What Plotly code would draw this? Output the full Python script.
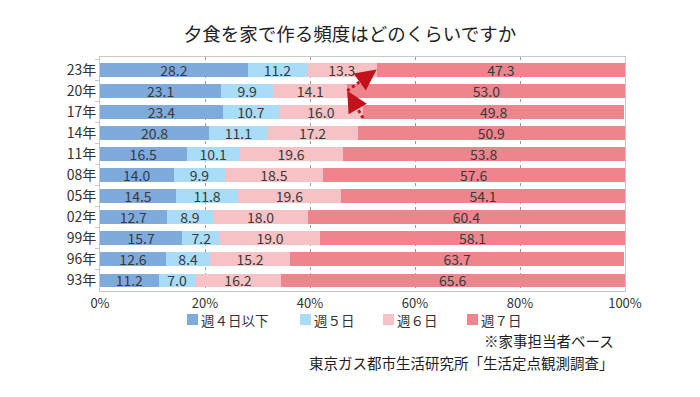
import math
import plotly.graph_objects as go

years = ["23年", "20年", "17年", "14年", "11年", "08年", "05年", "02年", "99年", "96年", "93年"]
series_names = ["週４日以下", "週５日", "週６日", "週７日"]
w4_or_less = [28.2, 23.1, 23.4, 20.8, 16.5, 14.0, 14.5, 12.7, 15.7, 12.6, 11.2]
w5 = [11.2, 9.9, 10.7, 11.1, 10.1, 9.9, 11.8, 8.9, 7.2, 8.4, 7.0]
w6 = [13.3, 14.1, 16.0, 17.2, 19.6, 18.5, 19.6, 18.0, 19.0, 15.2, 16.2]
w7 = [47.3, 53.0, 49.8, 50.9, 53.8, 57.6, 54.1, 60.4, 58.1, 63.7, 65.6]
colors = ["#7eaadc", "#a9dcf6", "#f6c2c5", "#ee858d"]
x_ticks = [0, 20, 40, 60, 80, 100]

# the page body adds an 8px offset; target screen coordinates below
OFF = 8
W, H = 700, 397
SL, ST, SR, SB = 100, 57, 625, 291        # plot area on screen
L, T = SL - OFF, ST - OFF
PW, PH = SR - SL, SB - ST
R, B = W - L - PW, H - T - PH

def px_x(p):
    return (p - OFF - L) / PW

def px_y(p):
    return (T + PH - (p - OFF)) / PH

font_family = "Noto Sans CJK JP, Noto Sans, sans-serif"
fig = go.Figure()
for name, vals, col in zip(series_names, [w4_or_less, w5, w6, w7], colors):
    fig.add_trace(go.Bar(
        y=years, x=vals, name=name, orientation="h",
        marker=dict(color=col, line=dict(width=0)),
        text=[f"{v:.1f}" for v in vals], textposition="inside", textangle=0,
        insidetextanchor="middle", constraintext="none",
        textfont=dict(color="#3a3a3a", size=14, family=font_family),
        showlegend=False,
    ))

# dotted arrows along the 週6日 / 週7日 boundary
boundary = [a + b + c for a, b, c in zip(w4_or_less, w5, w6)]
px_per_pct = PW / 100
px_per_row = PH / len(years)
arrow_color = "#c4121c"
for src, dst, tail_shift in [(2, 1, 0.3), (1, 0, 0.0)]:
    y_src = src + tail_shift
    dx = (boundary[dst] - boundary[src]) * px_per_pct
    dy = -(y_src - dst) * px_per_row
    length = math.hypot(dx, dy)
    ux, uy = dx / length, dy / length
    head_len = 9
    fig.add_shape(type="line", xref="x", yref="y",
                  x0=boundary[src], y0=y_src,
                  x1=boundary[dst] - ux * head_len / px_per_pct,
                  y1=dst - uy * head_len / px_per_row,
                  line=dict(color=arrow_color, width=3, dash="dot"))
    fig.add_annotation(x=boundary[dst], y=years[dst], xref="x", yref="y",
                       ax=-ux * head_len, ay=-uy * head_len, axref="pixel", ayref="pixel",
                       showarrow=True, arrowhead=2, arrowsize=1.4, arrowwidth=3,
                       arrowcolor=arrow_color, text="")

fig.update_layout(
    width=W, height=H,
    barmode="stack", bargap=0.34,
    plot_bgcolor="white", paper_bgcolor="white",
    margin=dict(l=L, r=R, t=T, b=B),
    font=dict(family=font_family, color="#333333", size=12),
    title=dict(text="夕食を家で作る頻度はどのくらいですか", x=px_x(350), xanchor="center",
               xref="paper", y=1 - (35 - OFF) / H, yanchor="middle",
               font=dict(size=18.5, color="#222222")),
    showlegend=False,
    uniformtext=dict(mode="show", minsize=11),
)
fig.update_xaxes(
    range=[0, 100], tickvals=x_ticks, ticktext=[f"{v}%" for v in x_ticks],
    showgrid=True, gridcolor="#9a9a9a", griddash="dot", gridwidth=1,
    showline=True, linecolor="#c8c8c8", linewidth=1, mirror=True,
    zeroline=False, tickfont=dict(size=13, color="#333333"), automargin=False,
)
fig.update_yaxes(
    type="category", categoryorder="array", categoryarray=years, autorange="reversed",
    showline=True, linecolor="#c8c8c8", linewidth=1, mirror=True,
    ticks="outside", tickson="boundaries", ticklen=4, tickcolor="#c8c8c8",
    tickfont=dict(size=14, color="#333333"), automargin=False,
)

# custom legend
legend_left_px = [187, 300, 383, 467]
for name, col, lx in zip(series_names, colors, legend_left_px):
    fig.add_shape(type="rect", xref="paper", yref="paper",
                  x0=px_x(lx), x1=px_x(lx + 11), y0=px_y(325), y1=px_y(314),
                  fillcolor=col, line=dict(width=0))
    fig.add_annotation(text=name, xref="paper", yref="paper",
                       x=px_x(lx + 12), y=px_y(319.5), xanchor="left", yanchor="middle",
                       showarrow=False, font=dict(size=13.5, color="#333333"))

fig.add_annotation(text="※家事担当者ベース", xref="paper", yref="paper",
                   x=px_x(616), y=px_y(340), xanchor="right", yanchor="middle",
                   showarrow=False, font=dict(size=14.5, color="#1e1e1e"))
fig.add_annotation(text="東京ガス都市生活研究所「生活定点観測調査」", xref="paper", yref="paper",
                   x=px_x(616), y=px_y(362), xanchor="right", yanchor="middle",
                   showarrow=False, font=dict(size=14.5, color="#1e1e1e"))

fig.write_html("out.html")
